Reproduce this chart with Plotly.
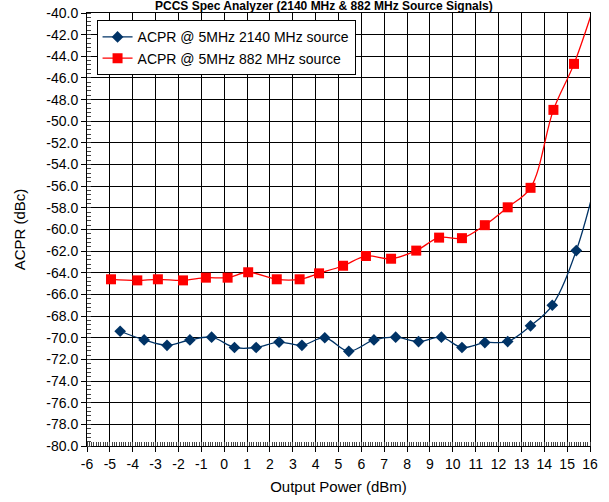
import plotly.graph_objects as go

# ACPR measurements (dBc) versus output power (dBm)
power_2140 = [-4.55, -3.5, -2.5, -1.5, -0.55, 0.45, 1.4, 2.4, 3.4, 4.4, 5.45,
              6.55, 7.5, 8.5, 9.5, 10.4, 11.4, 12.4, 13.4, 14.35, 15.4, 16.4]
acpr_2140 = [-69.4, -70.2, -70.7, -70.2, -69.95, -70.9, -70.9, -70.4, -70.7, -70.0, -71.25,
             -70.2, -69.95, -70.35, -69.95, -70.9, -70.45, -70.35, -68.9, -67.0, -61.95, -54.3]

power_882 = [-4.95, -3.8, -2.9, -1.8, -0.8, 0.15, 1.05, 2.3, 3.3, 4.15, 5.2,
             6.2, 7.3, 8.4, 9.4, 10.4, 11.4, 12.4, 13.4, 14.4, 15.3, 16.3]
acpr_882 = [-64.6, -64.7, -64.6, -64.7, -64.45, -64.45, -63.95, -64.6, -64.6, -64.05, -63.35,
            -62.45, -62.7, -61.95, -60.75, -60.8, -59.6, -57.95, -56.15, -48.95, -44.7, -38.5]

series_names = ["ACPR @ 5MHz 2140 MHz source", "ACPR @ 5MHz 882 MHz source"]
title_text = "PCCS Spec Analyzer (2140 MHz & 882 MHz Source Signals)"
x_title = "Output Power (dBm)"
y_title = "ACPR (dBc)"

# Axis ticks, written with a plain hyphen for negatives
x_tick_values = list(range(-6, 17))
x_tick_labels = [str(v) for v in x_tick_values]
y_tick_values = list(range(-80, -39, 2))
y_tick_labels = ["%.1f" % v for v in y_tick_values]

FONT = "Liberation Sans, Arial, sans-serif"

fig = go.Figure()
fig.add_trace(go.Scatter(
    x=power_2140, y=acpr_2140, name=series_names[0], mode="lines+markers",
    line=dict(color="#003366", width=1.3, shape="spline", smoothing=1.0),
    marker=dict(symbol="diamond", size=9, color="#003366"),
))
fig.add_trace(go.Scatter(
    x=power_882, y=acpr_882, name=series_names[1], mode="lines+markers",
    line=dict(color="#FF0000", width=1.3, shape="spline", smoothing=1.0),
    marker=dict(symbol="square", size=10, color="#FF0000"),
))

fig.update_layout(
    width=609, height=502,
    margin=dict(l=87, r=19, t=13, b=56, autoexpand=False),
    paper_bgcolor="white", plot_bgcolor="white",
    font=dict(family=FONT, size=14, color="black"),
    showlegend=True,
    legend=dict(
        x=0.019, y=0.983, xanchor="left", yanchor="top",
        bgcolor="white", bordercolor="black", borderwidth=1,
        font=dict(family=FONT, size=14, color="black"),
        itemsizing="trace",
    ),
    annotations=[dict(
        text="<b>" + title_text + "</b>", xref="paper", yref="paper",
        x=0.471, y=0.9975, xanchor="center", yanchor="bottom",
        showarrow=False, font=dict(family=FONT, size=12, color="black"),
        borderpad=0,
    )],
)

fig.update_xaxes(
    range=[-6, 16], tickmode="array", tickvals=x_tick_values, ticktext=x_tick_labels,
    automargin=False,
    showline=True, linecolor="black", linewidth=1, mirror=True,
    showgrid=True, gridcolor="black", gridwidth=1, zeroline=False,
    ticks="outside", ticklen=5, tickcolor="black",
    minor=dict(dtick=0.1, tick0=-6, ticks="inside", ticklen=4, tickcolor="#444", showgrid=False),
    tickfont=dict(family=FONT, size=14),
    title=dict(text=x_title, font=dict(family=FONT, size=15), standoff=10),
)
fig.update_yaxes(
    range=[-80, -40], tickmode="array", tickvals=y_tick_values, ticktext=y_tick_labels,
    automargin=False,
    showline=True, linecolor="black", linewidth=1, mirror=True,
    showgrid=True, gridcolor="black", gridwidth=1, zeroline=False,
    ticks="outside", ticklen=5, tickcolor="black",
    minor=dict(dtick=0.4, tick0=-80, ticks="inside", ticklen=4, tickcolor="#444", showgrid=False),
    tickfont=dict(family=FONT, size=14),
    title=dict(text=y_title, font=dict(family=FONT, size=15), standoff=17),
)

fig.write_html("out.html")
